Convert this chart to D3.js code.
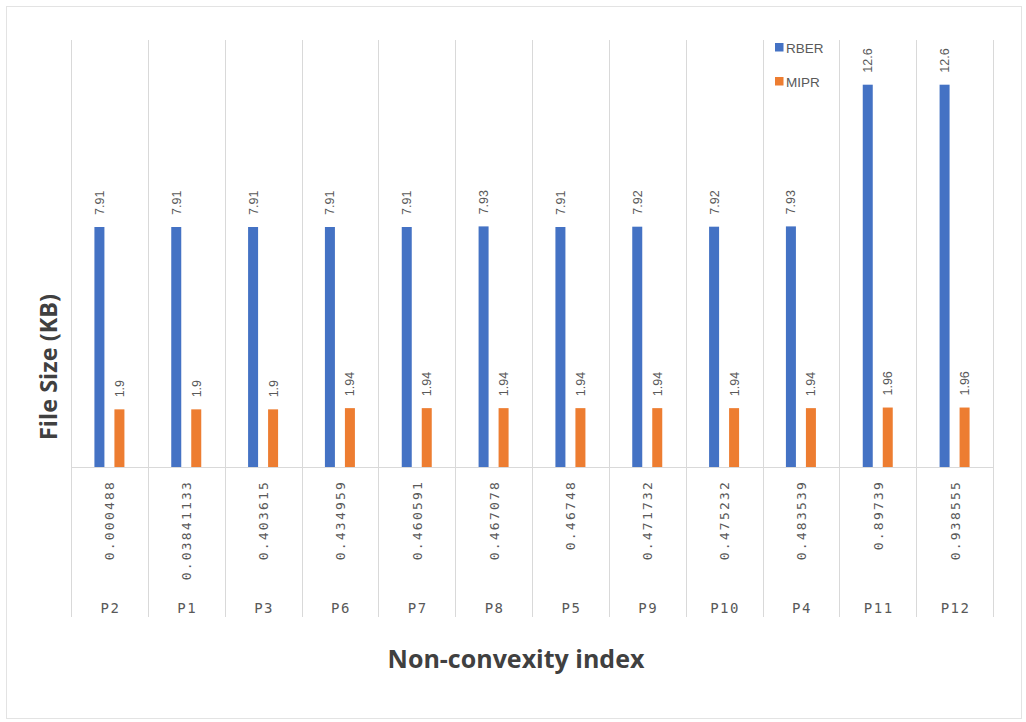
<!DOCTYPE html>
<html>
<head>
<meta charset="utf-8">
<script src="https://cdn.jsdelivr.net/npm/d3@7"></script>
<style>
  body { margin: 0; background: #fff; }
  svg { display: block; }
</style>
</head>
<body>
<div id="chart"></div>
<script>
// DATA
const points  = ["P2", "P1", "P3", "P6", "P7", "P8", "P5", "P9", "P10", "P4", "P11", "P12"];
const ncIndex = ["0.000488", "0.03841133", "0.403615", "0.434959", "0.460591", "0.467078",
                 "0.46748", "0.471732", "0.475232", "0.483539", "0.89739", "0.938555"];
const rber    = [7.91, 7.91, 7.91, 7.91, 7.91, 7.93, 7.91, 7.92, 7.92, 7.93, 12.6, 12.6];
const mipr    = [1.9, 1.9, 1.9, 1.94, 1.94, 1.94, 1.94, 1.94, 1.94, 1.94, 1.96, 1.96];
const series  = ["RBER", "MIPR"];
const colors  = ["#4472C4", "#ED7D31"];

const W = 1026, H = 722;
const plot = { left: 71, right: 993, top: 40, base: 467, bottom: 617 };
const textCol = "#595959";
const gridCol = "#d9d9d9";

const svg = d3.select("#chart").append("svg")
    .attr("width", W)
    .attr("height", H);

// outer frame
svg.append("rect")
    .attr("x", 6.5).attr("y", 6.5)
    .attr("width", 1015).attr("height", 712)
    .attr("fill", "#fff")
    .attr("stroke", "#e3e3e3");

const x = d3.scaleBand()
    .domain(points)
    .range([plot.left, plot.right]);

const bw = x.bandwidth();
const xs = d3.scaleBand()
    .domain(series)
    .range([bw / 2 - 20, bw / 2 + 20])
    .paddingInner(0.5)
    .paddingOuter(0.25);

const y = d3.scaleLinear()
    .domain([0, 14])
    .range([plot.base, plot.base - 14 * (240 / 7.91)]);

// vertical grid / category separators
const seps = points.map(p => x(p)).concat([plot.right]);
svg.append("g").selectAll("line")
    .data(seps)
    .enter().append("line")
        .attr("x1", d => Math.round(d) + 0.5)
        .attr("x2", d => Math.round(d) + 0.5)
        .attr("y1", plot.top)
        .attr("y2", plot.bottom)
        .attr("stroke", gridCol);

// baseline
svg.append("line")
    .attr("x1", plot.left).attr("x2", plot.right)
    .attr("y1", plot.base + 0.5).attr("y2", plot.base + 0.5)
    .attr("stroke", gridCol);

const rows = points.map((p, i) => ({ p: p, idx: ncIndex[i], vals: [rber[i], mipr[i]] }));

const groups = svg.append("g").selectAll("g.cat")
    .data(rows)
    .enter().append("g")
        .attr("class", "cat")
        .attr("transform", d => `translate(${x(d.p)},0)`);

const bars = groups.selectAll("g.bar")
    .data(d => d.vals.map((v, j) => ({ s: series[j], v: v, j: j })))
    .enter().append("g")
        .attr("class", "bar");

bars.append("rect")
    .attr("x", d => xs(d.s))
    .attr("width", xs.bandwidth())
    .attr("y", d => y(d.v))
    .attr("height", d => y(0) - y(d.v))
    .attr("fill", d => colors[d.j]);

// value labels
bars.append("text")
    .attr("transform", d => `translate(${xs(d.s) + xs.bandwidth() / 2 + 4.5},${y(d.v) - 12}) rotate(-90)`)
    .attr("text-anchor", "start")
    .attr("font-family", "Liberation Sans, Arial, sans-serif")
    .attr("font-size", 12.5)
    .attr("fill", textCol)
    .text(d => d.v);

// non-convexity index labels
groups.append("text")
    .attr("transform", `translate(${bw / 2 + 5},480) rotate(-90)`)
    .attr("text-anchor", "end")
    .attr("font-family", "DejaVu Sans Mono, monospace")
    .attr("font-size", 13)
    .attr("letter-spacing", 2.2)
    .attr("fill", textCol)
    .text(d => d.idx);

// point labels
groups.append("text")
    .attr("x", bw / 2 + 1)
    .attr("y", 613)
    .attr("text-anchor", "middle")
    .attr("font-family", "DejaVu Sans Mono, monospace")
    .attr("font-size", 14)
    .attr("letter-spacing", 1.5)
    .attr("fill", textCol)
    .text(d => d.p);

// legend
const legend = svg.append("g")
    .attr("transform", "translate(775,43)");
const li = legend.selectAll("g")
    .data(series)
    .enter().append("g")
        .attr("transform", (d, i) => `translate(0,${i * 34})`);
li.append("rect")
    .attr("width", 8.5).attr("height", 8.5)
    .attr("fill", (d, i) => colors[i]);
li.append("text")
    .attr("x", 11).attr("y", 9.5)
    .attr("font-family", "Liberation Sans, Arial, sans-serif")
    .attr("font-size", 13.5)
    .attr("fill", textCol)
    .text(d => d);

// axis titles
svg.append("text")
    .attr("transform", "translate(57,367) rotate(-90)")
    .attr("text-anchor", "middle")
    .attr("font-family", "Open Sans, sans-serif")
    .attr("font-weight", "bold")
    .attr("font-size", 23.5)
    .attr("fill", "#404040")
    .text("File Size (KB)");

svg.append("text")
    .attr("x", 516).attr("y", 668)
    .attr("text-anchor", "middle")
    .attr("font-family", "Open Sans, sans-serif")
    .attr("font-weight", "bold")
    .attr("font-size", 25)
    .attr("fill", "#404040")
    .text("Non-convexity index");
</script>
</body>
</html>
